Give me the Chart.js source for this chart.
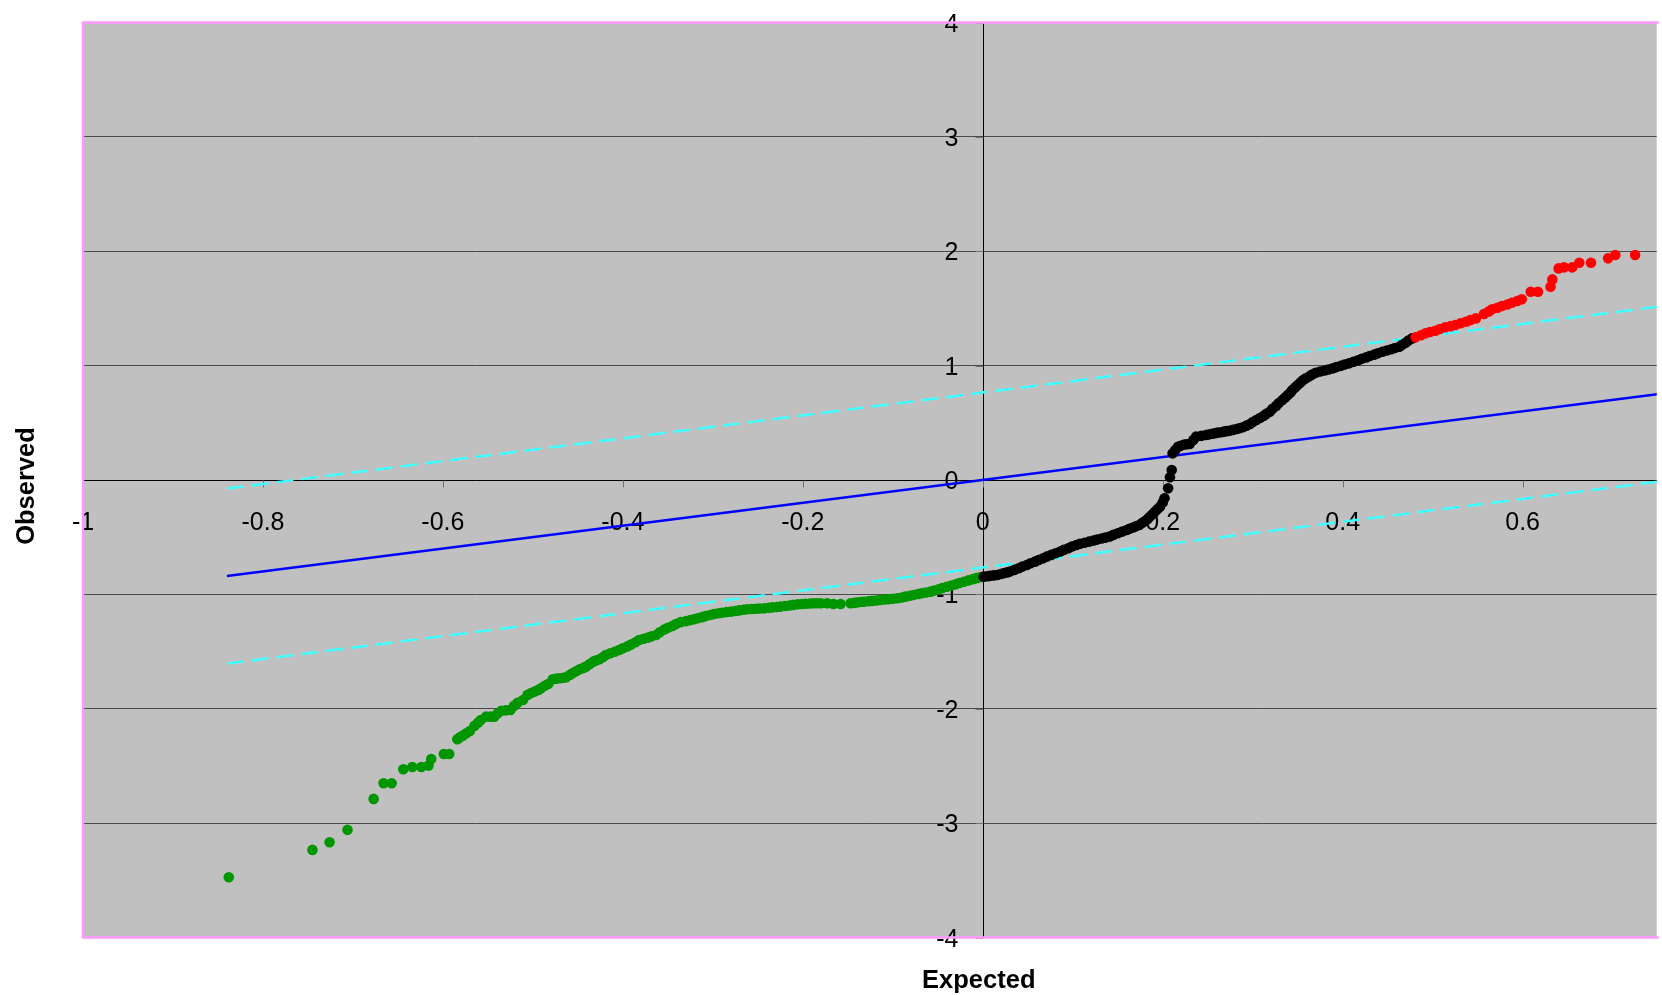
<!DOCTYPE html>
<html>
<head>
<meta charset="utf-8">
<script src="https://cdn.jsdelivr.net/npm/chart.js@4.4.1/dist/chart.umd.min.js"></script>
<style>
  html, body { margin: 0; padding: 0; background: #fff; }
  canvas { display: block; }
</style>
</head>
<body>
<canvas id="chart" width="1662" height="995"></canvas>
<script>
// axis ticks
const xTicks = [-1, -0.8, -0.6, -0.4, -0.2, 0, 0.2, 0.4, 0.6];
const yTicks = [-4, -3, -2, -1, 0, 1, 2, 3, 4];

// [expected, observed] pairs
const lowerTail = [
  [-0.838, -3.473], [-0.745, -3.234], [-0.726, -3.167], [-0.706, -3.059], [-0.677, -2.788],
  [-0.666, -2.652], [-0.657, -2.652], [-0.644, -2.529], [-0.634, -2.509], [-0.624, -2.509],
  [-0.616, -2.497], [-0.613, -2.439], [-0.599, -2.395], [-0.593, -2.395],
  [-0.584, -2.267], [-0.581, -2.250], [-0.578, -2.235], [-0.574, -2.214], [-0.570, -2.194],
  [-0.565, -2.150], [-0.561, -2.122], [-0.558, -2.098], [-0.552, -2.069], [-0.547, -2.069],
  [-0.543, -2.069], [-0.539, -2.040], [-0.535, -2.017], [-0.530, -2.014], [-0.525, -2.010],
  [-0.521, -1.975], [-0.517, -1.947], [-0.511, -1.923], [-0.506, -1.879], [-0.502, -1.862],
  [-0.498, -1.850], [-0.494, -1.835], [-0.491, -1.821], [-0.487, -1.800], [-0.483, -1.783],
  [-0.478, -1.742], [-0.474, -1.737], [-0.470, -1.733], [-0.466, -1.729], [-0.463, -1.725],
  [-0.459, -1.705], [-0.456, -1.690], [-0.452, -1.672], [-0.448, -1.655], [-0.444, -1.643],
  [-0.441, -1.632], [-0.437, -1.610], [-0.433, -1.588], [-0.430, -1.578], [-0.426, -1.567],
  [-0.422, -1.548], [-0.419, -1.530], [-0.414, -1.515], [-0.409, -1.501], [-0.404, -1.486],
  [-0.400, -1.471], [-0.395, -1.455], [-0.391, -1.438], [-0.386, -1.418], [-0.382, -1.399],
  [-0.377, -1.388], [-0.372, -1.378], [-0.368, -1.367], [-0.363, -1.355], [-0.359, -1.332],
  [-0.354, -1.308], [-0.350, -1.292], [-0.345, -1.276], [-0.341, -1.260], [-0.336, -1.243],
  [-0.330, -1.234], [-0.325, -1.225], [-0.321, -1.217], [-0.317, -1.209], [-0.312, -1.199],
  [-0.308, -1.190], [-0.303, -1.180], [-0.299, -1.171], [-0.294, -1.165], [-0.290, -1.160],
  [-0.285, -1.155], [-0.280, -1.151], [-0.275, -1.145], [-0.271, -1.140], [-0.266, -1.135],
  [-0.262, -1.130], [-0.257, -1.128], [-0.252, -1.126], [-0.248, -1.124], [-0.243, -1.122],
  [-0.238, -1.118], [-0.234, -1.114], [-0.229, -1.110], [-0.225, -1.107], [-0.220, -1.102],
  [-0.215, -1.097], [-0.211, -1.092], [-0.206, -1.087], [-0.201, -1.084], [-0.197, -1.082],
  [-0.192, -1.080], [-0.188, -1.078], [-0.184, -1.078], [-0.180, -1.078], [-0.173, -1.078],
  [-0.166, -1.084], [-0.158, -1.084], [-0.147, -1.078], [-0.143, -1.074], [-0.140, -1.071],
  [-0.136, -1.067], [-0.132, -1.064], [-0.127, -1.060], [-0.123, -1.057], [-0.118, -1.053],
  [-0.114, -1.049], [-0.109, -1.045], [-0.105, -1.042], [-0.100, -1.038], [-0.095, -1.034],
  [-0.090, -1.027], [-0.086, -1.020], [-0.081, -1.012], [-0.077, -1.005], [-0.072, -0.997],
  [-0.068, -0.990], [-0.063, -0.983], [-0.058, -0.976], [-0.054, -0.966], [-0.049, -0.955],
  [-0.045, -0.944], [-0.040, -0.933], [-0.035, -0.922], [-0.030, -0.911], [-0.026, -0.900],
  [-0.021, -0.889], [-0.016, -0.878], [-0.011, -0.867], [-0.007, -0.858], [-0.003, -0.850]
];

const middle = [
  [0.001, -0.845], [0.005, -0.841], [0.008, -0.838], [0.012, -0.834], [0.016, -0.830],
  [0.020, -0.822], [0.023, -0.815], [0.027, -0.808], [0.030, -0.801], [0.035, -0.786],
  [0.040, -0.772], [0.044, -0.757], [0.049, -0.743], [0.053, -0.728], [0.058, -0.714],
  [0.062, -0.700], [0.067, -0.685], [0.071, -0.670], [0.076, -0.655], [0.081, -0.640],
  [0.086, -0.626], [0.090, -0.611], [0.095, -0.597], [0.099, -0.582], [0.104, -0.568],
  [0.108, -0.558], [0.113, -0.549], [0.118, -0.539], [0.123, -0.530], [0.127, -0.521],
  [0.132, -0.512], [0.136, -0.504], [0.141, -0.495], [0.145, -0.480], [0.150, -0.466],
  [0.155, -0.451], [0.160, -0.437], [0.163, -0.426], [0.167, -0.415], [0.170, -0.404],
  [0.174, -0.393], [0.177, -0.376], [0.180, -0.360], [0.183, -0.343], [0.185, -0.326],
  [0.188, -0.303], [0.191, -0.280], [0.194, -0.256], [0.197, -0.233], [0.200, -0.196],
  [0.202, -0.160], [0.206, -0.073], [0.208, 0.024], [0.210, 0.087], [0.211, 0.233],
  [0.214, 0.262], [0.217, 0.291], [0.220, 0.300], [0.224, 0.310], [0.227, 0.313],
  [0.230, 0.315], [0.234, 0.350], [0.237, 0.379], [0.243, 0.386], [0.248, 0.393],
  [0.251, 0.398], [0.255, 0.404], [0.258, 0.409], [0.261, 0.414], [0.265, 0.418],
  [0.268, 0.423], [0.271, 0.427], [0.274, 0.431], [0.278, 0.438], [0.282, 0.446],
  [0.285, 0.453], [0.289, 0.461], [0.293, 0.475], [0.297, 0.490], [0.300, 0.507],
  [0.304, 0.524], [0.308, 0.542], [0.312, 0.560], [0.315, 0.578], [0.319, 0.597],
  [0.322, 0.622], [0.326, 0.648], [0.329, 0.673], [0.333, 0.699], [0.336, 0.721],
  [0.339, 0.743], [0.342, 0.765], [0.344, 0.787], [0.347, 0.808], [0.350, 0.830],
  [0.353, 0.852], [0.356, 0.874], [0.359, 0.890], [0.363, 0.906], [0.366, 0.922],
  [0.370, 0.938], [0.375, 0.948], [0.380, 0.957], [0.384, 0.966], [0.389, 0.976],
  [0.393, 0.987], [0.398, 0.998], [0.402, 1.009], [0.407, 1.020], [0.412, 1.033],
  [0.417, 1.046], [0.421, 1.059], [0.426, 1.072], [0.430, 1.084], [0.435, 1.096],
  [0.439, 1.108], [0.444, 1.121], [0.449, 1.132], [0.454, 1.143], [0.458, 1.154],
  [0.463, 1.165], [0.466, 1.182], [0.470, 1.200], [0.473, 1.219], [0.477, 1.238]
];

const upperTail = [
  [0.481, 1.247], [0.487, 1.265], [0.492, 1.282], [0.497, 1.294], [0.503, 1.305],
  [0.508, 1.320], [0.514, 1.335], [0.520, 1.345], [0.525, 1.355], [0.531, 1.370],
  [0.537, 1.384], [0.542, 1.398], [0.548, 1.413], [0.557, 1.451], [0.562, 1.472],
  [0.566, 1.492], [0.572, 1.506], [0.577, 1.521], [0.583, 1.535], [0.588, 1.550],
  [0.594, 1.565], [0.599, 1.580], [0.609, 1.646], [0.617, 1.646], [0.631, 1.690],
  [0.633, 1.754], [0.640, 1.850], [0.646, 1.859], [0.655, 1.859], [0.663, 1.899],
  [0.676, 1.899], [0.695, 1.938], [0.703, 1.967], [0.725, 1.967]
];

// reference line and band
const fitLine = [[-0.84, -0.84], [0.75, 0.75]];
const upperBand = [[-0.84, -0.075], [0.75, 1.515]];
const lowerBand = [[-0.84, -1.605], [0.75, -0.015]];

const toXY = arr => arr.map(p => ({ x: p[0], y: p[1] }));

const FONT = '"Liberation Sans", Arial, sans-serif';

// excel-like plot frame: grey area, axes crossing at 0, pink border
const excelFrame = {
  id: 'excelFrame',
  beforeDraw(chart) {
    const { ctx, chartArea: a } = chart;
    ctx.save();
    ctx.fillStyle = '#c0c0c0';
    ctx.fillRect(a.left, a.top, a.right - a.left, a.bottom - a.top);
    ctx.restore();
  },
  beforeDatasetsDraw(chart) {
    const { ctx, chartArea: a, scales: { x, y } } = chart;
    const x0 = Math.round(x.getPixelForValue(0)) + 0.5;
    const y0 = Math.round(y.getPixelForValue(0)) + 0.5;
    ctx.save();
    ctx.strokeStyle = '#000';
    ctx.lineWidth = 1;
    ctx.beginPath();
    ctx.moveTo(a.left, y0); ctx.lineTo(a.right, y0);
    ctx.moveTo(x0, a.top); ctx.lineTo(x0, a.bottom);
    ctx.stroke();

    ctx.strokeStyle = '#707070';
    ctx.beginPath();
    xTicks.forEach(v => {
      const px = Math.round(x.getPixelForValue(v)) + 0.5;
      ctx.moveTo(px, y0); ctx.lineTo(px, y0 + 7);
    });
    yTicks.forEach(v => {
      const py = Math.round(y.getPixelForValue(v)) + 0.5;
      ctx.moveTo(x0 - 8, py); ctx.lineTo(x0, py);
    });
    ctx.stroke();

    ctx.fillStyle = '#000';
    ctx.font = '25px ' + FONT;
    ctx.textBaseline = 'alphabetic';
    ctx.textAlign = 'center';
    xTicks.forEach(v => ctx.fillText(String(v), x.getPixelForValue(v), y0 + 49));
    ctx.textAlign = 'right';
    yTicks.forEach(v => ctx.fillText(String(v), x0 - 25, y.getPixelForValue(v) + 9));
    ctx.restore();
  },
  afterDraw(chart) {
    const { ctx, chartArea: a, scales: { x } } = chart;
    ctx.save();
    ctx.strokeStyle = '#ff99ff';
    ctx.lineWidth = 2.5;
    ctx.beginPath();
    ctx.moveTo(a.right + 2, a.top);
    ctx.lineTo(a.left, a.top);
    ctx.lineTo(a.left, a.bottom);
    ctx.lineTo(a.right + 2, a.bottom);
    ctx.stroke();

    ctx.fillStyle = '#000';
    ctx.font = 'bold 25.5px ' + FONT;
    ctx.textAlign = 'center';
    ctx.textBaseline = 'alphabetic';
    ctx.fillText('Expected', x.getPixelForValue(0) - 4, 988);
    ctx.translate(34, (a.top + a.bottom) / 2 + 6);
    ctx.rotate(-Math.PI / 2);
    ctx.fillText('Observed', 0, 0);
    ctx.restore();
  }
};

const dots = (data, color) => ({
  data: toXY(data), backgroundColor: color, borderWidth: 0,
  pointRadius: 5.3, pointHoverRadius: 5.3
});
const line = (data, color, dash) => ({
  data: toXY(data), showLine: true, borderColor: color, borderWidth: 2.5,
  borderDash: dash, pointRadius: 0, fill: false
});

new Chart(document.getElementById('chart'), {
  type: 'scatter',
  data: {
    datasets: [
      dots(upperTail, '#ff0000'),
      dots(middle, '#000000'),
      dots(lowerTail, '#009600'),
      line(fitLine, '#0000ff', []),
      line(upperBand, '#40ffff', [17, 8]),
      line(lowerBand, '#40ffff', [17, 8])
    ]
  },
  options: {
    responsive: false,
    animation: false,
    devicePixelRatio: 1,
    layout: { padding: { left: 83, top: 22.5, right: 0, bottom: 57.5 } },
    plugins: { legend: { display: false }, tooltip: { enabled: false } },
    scales: {
      x: {
        type: 'linear', min: -1, max: 0.749,
        grid: { display: false, drawTicks: false },
        border: { display: false },
        ticks: { display: false }
      },
      y: {
        type: 'linear', min: -4, max: 4,
        ticks: { display: false, stepSize: 1 },
        grid: { color: '#4a4a4a', drawTicks: false },
        border: { display: false }
      }
    }
  },
  plugins: [excelFrame]
});
</script>
</body>
</html>
